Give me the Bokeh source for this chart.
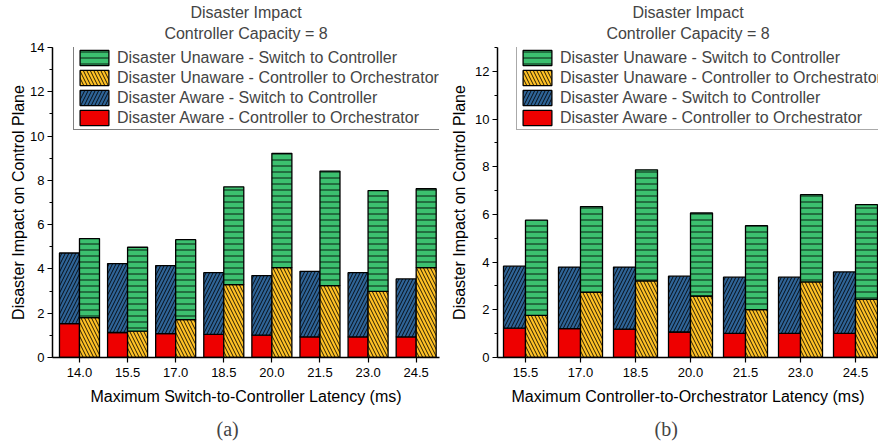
from bokeh.plotting import figure
from bokeh.models import (Legend, LegendItem, FixedTicker, SingleIntervalTicker,
                          Range1d, Title, ColumnDataSource)
from bokeh.layouts import row
from bokeh.transform import dodge
from bokeh.embed import file_html
from bokeh.resources import INLINE

# ---------------- data: chart (a) ----------------
a_labels = ["14.0", "15.5", "17.0", "18.5", "20.0", "21.5", "23.0", "24.5"]
a_aware_c2o = [1.53, 1.13, 1.08, 1.04, 1.01, 0.93, 0.93, 0.93]
a_aware_s2c = [3.19, 3.11, 3.07, 2.79, 2.69, 2.96, 2.90, 2.62]
a_unaware_c2o = [1.80, 1.19, 1.71, 3.29, 4.06, 3.25, 2.99, 4.06]
a_unaware_s2c = [3.57, 3.79, 3.61, 4.42, 5.16, 5.17, 4.55, 3.56]

# ---------------- data: chart (b) ----------------
b_labels = ["15.5", "17.0", "18.5", "20.0", "21.5", "23.0", "24.5"]
b_aware_c2o = [1.23, 1.21, 1.19, 1.07, 1.01, 1.01, 1.01]
b_aware_s2c = [2.60, 2.58, 2.60, 2.34, 2.36, 2.36, 2.58]
b_unaware_c2o = [1.77, 2.73, 3.21, 2.58, 2.01, 3.17, 2.44]
b_unaware_s2c = [3.99, 3.60, 4.66, 3.48, 3.52, 3.66, 3.97]

series_names = ["Disaster Unaware - Switch to Controller",
                "Disaster Unaware - Controller to Orchestrator",
                "Disaster Aware - Switch to Controller",
                "Disaster Aware - Controller to Orchestrator"]

RED = "#EE0000"
BLUE = "#2F6497"
YELLOW = "#FFC125"
GREEN = "#3CC06F"
FONT = "Liberation Sans"


def make_chart(labels, aw_c2o, aw_s2c, un_c2o, un_s2c, y_max, x_start, x_end,
               bar_w, width, mb_left, mb_right, xlabel, caption, cap_offset,
               legend_loc, legend_border, ylabel_standoff):
    n = len(labels)
    p = figure(width=width, height=447, output_backend="svg", toolbar_location=None,
               x_range=Range1d(x_start, x_end), y_range=Range1d(0, y_max),
               min_border_left=mb_left, min_border_right=mb_right,
               min_border_top=47, min_border_bottom=90)
    p.outline_line_color = None
    p.grid.visible = False
    p.background_fill_color = "white"

    p.title.text = "Disaster Impact"
    p.title.align = "center"
    p.title.text_font = FONT
    p.title.text_font_size = "16px"
    p.title.text_font_style = "normal"
    p.title.standoff = 1
    sub = Title(text="Controller Capacity = 8", align="center", text_font=FONT,
                text_font_size="16px", text_font_style="normal", standoff=7,
                vertical_align="top")
    p.add_layout(sub, "above")

    src = ColumnDataSource(dict(idx=list(range(n)), aw_c2o=aw_c2o, aw_s2c=aw_s2c,
                                un_c2o=un_c2o, un_s2c=un_s2c))
    common = dict(width=bar_w, source=src, line_color="black", line_width=1.3,
                  hatch_color="black", hatch_weight=1.0, hatch_alpha=0.85)
    r_aw = p.vbar_stack(["aw_c2o", "aw_s2c"], x=dodge("idx", -bar_w / 2, range=p.x_range),
                        fill_color=[RED, BLUE], hatch_pattern=[" ", "/"],
                        hatch_scale=[7, 7], **common)
    r_un = p.vbar_stack(["un_c2o", "un_s2c"], x=dodge("idx", bar_w / 2, range=p.x_range),
                        fill_color=[YELLOW, GREEN], hatch_pattern=["\\", "-"],
                        hatch_scale=[7, 6], **common)

    legend = Legend(items=[LegendItem(label=series_names[0], renderers=[r_un[1]]),
                           LegendItem(label=series_names[1], renderers=[r_un[0]]),
                           LegendItem(label=series_names[2], renderers=[r_aw[1]]),
                           LegendItem(label=series_names[3], renderers=[r_aw[0]])],
                    location=legend_loc, margin=0, padding=2, spacing=1,
                    glyph_width=36, glyph_height=19, label_height=19,
                    label_standoff=5, label_text_font=FONT, label_text_font_size="16px",
                    border_line_color=legend_border, border_line_width=1.2,
                    background_fill_alpha=1.0)
    p.add_layout(legend, "center")

    p.xaxis.ticker = FixedTicker(ticks=list(range(n)), minor_ticks=[])
    p.xaxis.major_label_overrides = {i: lab for i, lab in enumerate(labels)}
    p.yaxis.ticker = SingleIntervalTicker(interval=2, num_minor_ticks=2)
    for ax in (p.xaxis, p.yaxis):
        ax.axis_line_color = "black"
        ax.axis_line_width = 1.5
        ax.major_tick_line_color = "black"
        ax.major_tick_line_width = 1.2
        ax.minor_tick_line_color = "black"
        ax.minor_tick_line_width = 1.2
        ax.major_tick_in = 0
        ax.major_tick_out = 5
        ax.minor_tick_in = 0
        ax.minor_tick_out = 3
        ax.major_label_text_font = FONT
        ax.major_label_text_font_size = "13px"
        ax.major_label_text_color = "black"
        ax.axis_label_text_font = FONT
        ax.axis_label_text_font_size = "16px"
        ax.axis_label_text_font_style = "normal"
        ax.axis_label_text_color = "black"
    p.xaxis.axis_label = xlabel
    p.xaxis.major_label_standoff = 5
    p.xaxis.axis_label_standoff = 8
    p.yaxis.axis_label = "Disaster Impact on Control Plane"
    p.yaxis.major_label_standoff = 3
    p.yaxis.axis_label_standoff = ylabel_standoff

    cap = Title(text=caption, align="left", text_font="Liberation Serif",
                text_font_size="20px", text_font_style="normal", offset=cap_offset,
                standoff=16)
    p.add_layout(cap, "below")
    return p


pa = make_chart(a_labels, a_aware_c2o, a_aware_s2c, a_unaware_c2o, a_unaware_s2c,
                14, -0.561, 7.485, 0.416, 448, 52, 9,
                "Maximum Switch-to-Controller Latency (ms)", "(a)", 164, (21, 227),
                "black", 0)
pb = make_chart(b_labels, b_aware_c2o, b_aware_s2c, b_unaware_c2o, b_unaware_s2c,
                13, -0.509, 6.418, 0.40, 430, 48, 0,
                "Maximum Controller-to-Orchestrator Latency (ms)", "(b)", 157, (19, 227),
                "#555555", 4)

layout = row(pa, pb)
open("out.html", "w").write(file_html(layout, INLINE))
